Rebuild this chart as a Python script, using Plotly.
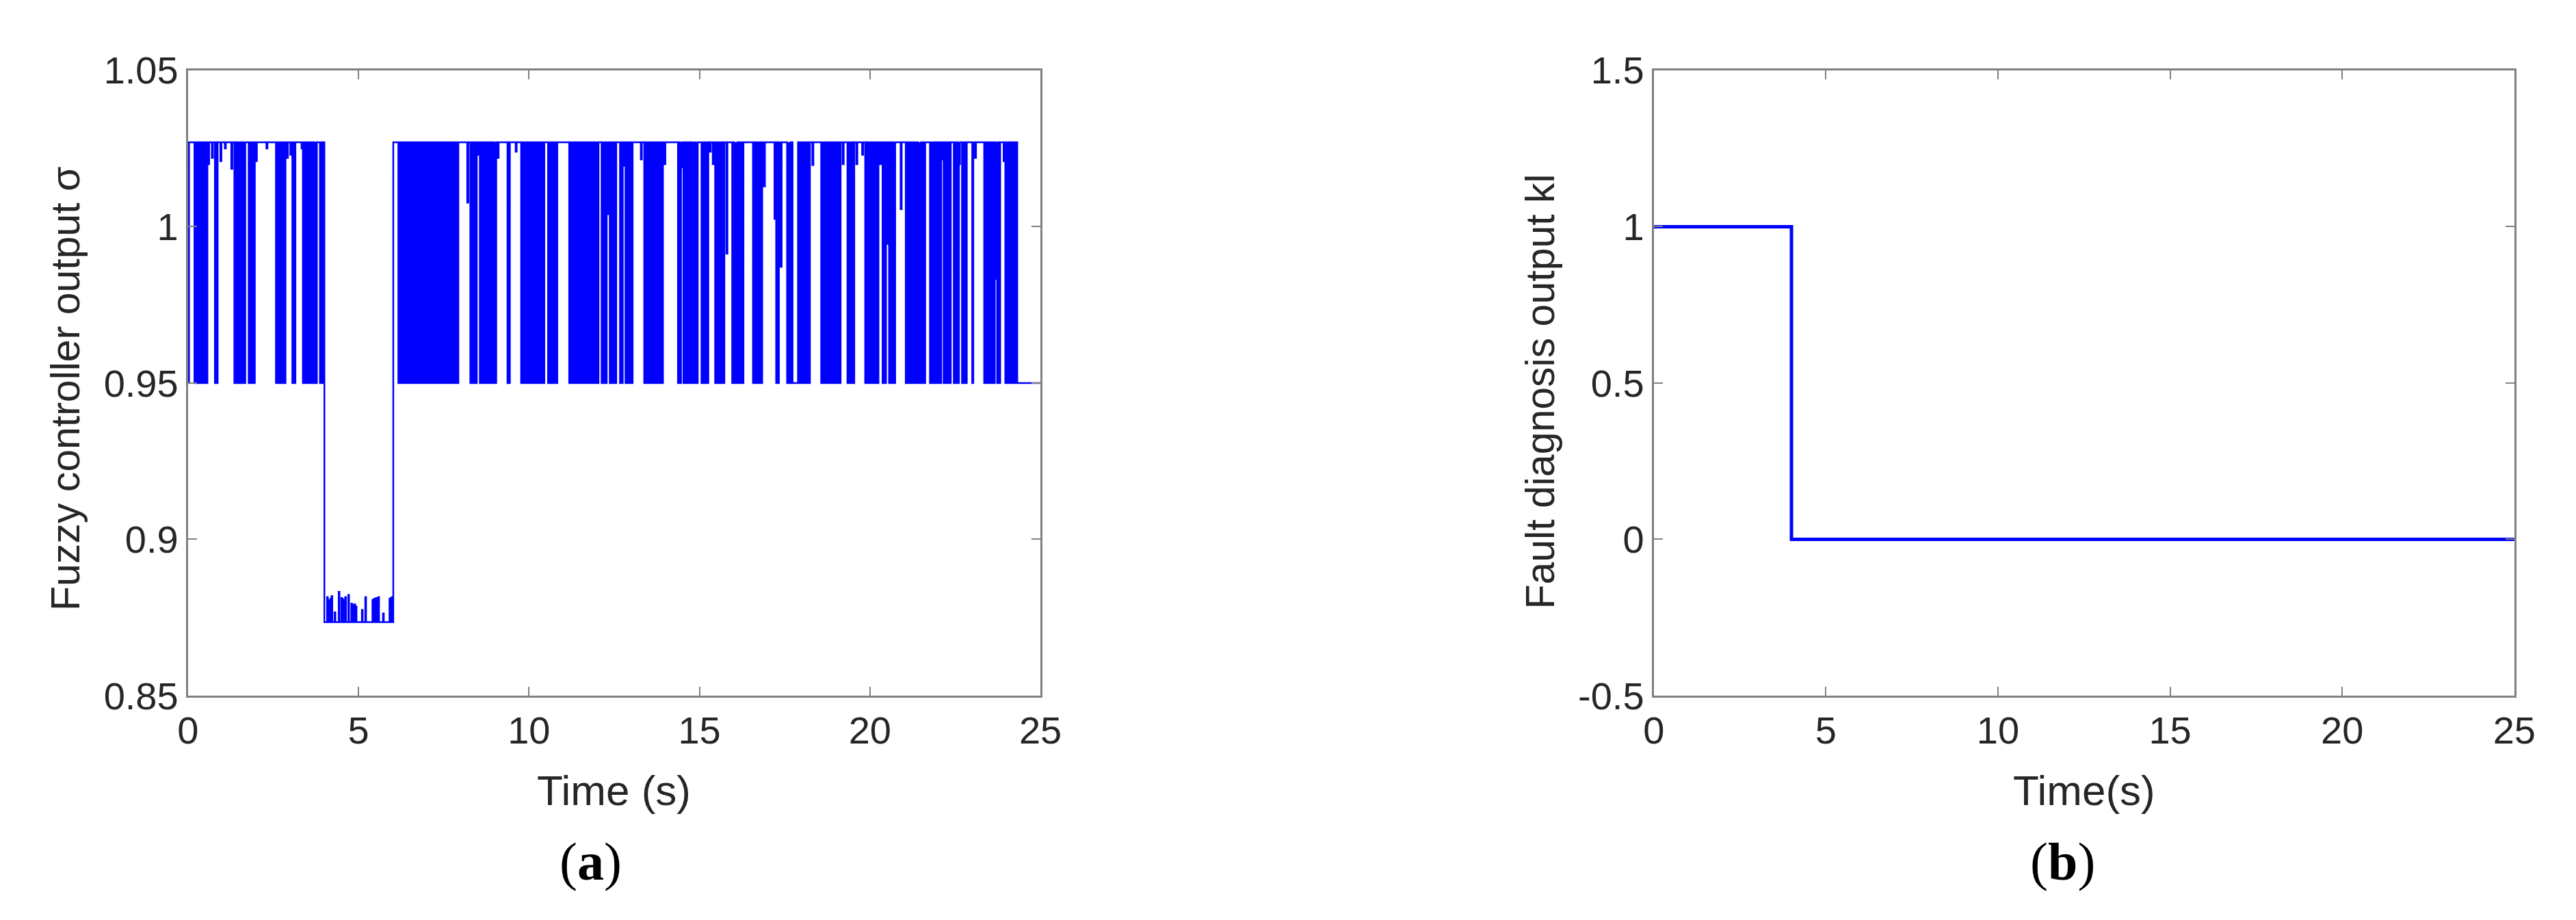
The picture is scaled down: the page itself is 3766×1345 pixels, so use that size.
import plotly.graph_objects as go

W, H = 3766, 1345

# (a) fuzzy controller output sigma
sigma_top = 1.027
sigma_low = 0.95
fault_base = 0.8735
fault_start, fault_end = 4.0, 6.02
end_switch = 24.32
t_end = 25.0
dip_width = 0.03

# times where sigma chatters down to 0.95
dip_times = [
    0.19, 0.24, 0.28, 0.33, 0.37, 0.42, 0.46, 0.50, 0.54,
    0.79, 0.84,
    1.36, 1.41, 1.46, 1.51, 1.56, 1.61, 1.65,
    1.78, 1.83, 1.88, 1.93,
    2.58, 2.63, 2.68, 2.73, 2.78, 2.83,
    3.06, 3.12,
    3.37, 3.42, 3.47, 3.52, 3.57, 3.62, 3.67, 3.72, 3.75,
    3.87, 3.92,
    6.17, 6.23, 6.29, 6.35, 6.41, 6.47, 6.54, 6.60, 6.65, 6.71, 6.77, 6.83, 6.89,
    6.95, 7.01, 7.07, 7.13, 7.19, 7.25, 7.31, 7.37, 7.43, 7.50, 7.55, 7.61, 7.67,
    7.73, 7.79, 7.85, 7.90,
    8.28, 8.34, 8.40, 8.44,
    8.56, 8.62, 8.68, 8.74, 8.80, 8.86, 8.92, 8.98, 9.01,
    9.37, 9.41,
    9.77, 9.83, 9.89, 9.95, 10.01, 10.07, 10.13, 10.19, 10.25, 10.31, 10.37, 10.42,
    10.56, 10.62, 10.68, 10.74, 10.80,
    11.18, 11.24, 11.30, 11.36, 11.42, 11.48, 11.54, 11.60, 11.66, 11.72, 11.78,
    11.84, 11.90, 11.96, 12.01,
    12.13, 12.19, 12.25,
    12.37, 12.43, 12.49, 12.53,
    12.67, 12.72,
    12.83, 12.89, 12.95, 13.01,
    13.38, 13.44, 13.50, 13.56, 13.62, 13.68, 13.74, 13.80, 13.86, 13.90,
    14.37, 14.43,
    14.53, 14.59, 14.65, 14.71, 14.77, 14.83, 14.89, 14.92,
    15.06, 15.12, 15.18, 15.23,
    15.46, 15.52, 15.58, 15.64, 15.70,
    15.96, 16.02, 16.08, 16.14, 16.20, 16.26,
    16.57, 16.63, 16.69, 16.75, 16.81,
    17.25, 17.30,
    17.57, 17.63, 17.69,
    17.92, 17.98, 18.04, 18.10, 18.16, 18.21,
    18.57, 18.63, 18.69, 18.75, 18.81, 18.87, 18.93, 18.99, 19.05, 19.11,
    19.34, 19.40, 19.46, 19.51,
    19.86, 19.92, 19.98, 20.04, 20.10, 20.16, 20.22,
    20.37, 20.44,
    20.56, 20.62, 20.68, 20.71,
    21.05, 21.11, 21.17, 21.23, 21.29, 21.35, 21.41, 21.47, 21.53, 21.59,
    21.76, 21.82, 21.88, 21.94, 22.00, 22.06,
    22.16, 22.22, 22.28, 22.34,
    22.46, 22.52, 22.58,
    22.70, 22.76, 22.81,
    23.00,
    23.35, 23.41, 23.47, 23.53, 23.59, 23.63,
    23.73, 23.79,
    23.97, 24.03, 24.09, 24.15, 24.21, 24.27,
]

# shallow dips that do not reach 0.95
part_times = [0.59, 0.70, 0.95, 1.08, 1.27, 1.99, 2.30, 2.90, 3.00, 3.33,
              8.19, 8.50, 9.08, 9.61, 12.29, 12.78, 13.28, 13.97, 14.46, 14.81,
              15.30, 15.39, 15.79, 16.05, 16.89, 17.20, 17.38, 17.60, 18.31, 19.20,
              19.60, 19.77, 20.30, 20.52, 20.90, 21.41, 22.11, 22.60, 23.08, 23.70, 23.92]
part_levels = [1.020, 1.022, 1.021, 1.025, 1.0185, 1.021, 1.025, 1.022, 1.023, 1.025,
               1.0077, 1.023, 1.022, 1.024, 1.004, 1.0195, 1.0215, 1.020, 1.019, 0.989,
               1.024, 1.020, 0.9914, 1.0215, 1.0129, 1.0025, 0.9872, 1.025, 1.0197, 1.020,
               1.020, 1.023, 1.020, 0.9945, 1.0056, 1.023, 1.0215, 1.020, 1.022, 0.9833, 1.021]

# longer stay at 0.95
hold_low = [(17.73, 17.89)]

# chatter while the fault is active (4 s to 6 s)
fault_spike_t = [4.08, 4.11, 4.14, 4.18, 4.21, 4.30, 4.42, 4.50, 4.53, 4.56, 4.61,
                 4.70, 4.79, 4.82, 4.85, 4.88, 4.92, 5.10, 5.20, 5.41, 5.44, 5.47,
                 5.52, 5.55, 5.58, 5.72, 5.91, 5.95, 5.98]
fault_spike_v = [0.8815, 0.8805, 0.8800, 0.8810, 0.8818, 0.8766, 0.8832, 0.8812, 0.8808, 0.8805, 0.8815,
                 0.8822, 0.8794, 0.8790, 0.8788, 0.8792, 0.8785, 0.8774, 0.8815, 0.8805, 0.8808, 0.8810,
                 0.8812, 0.8806, 0.8815, 0.8763, 0.8810, 0.8812, 0.8815]

# (b) fault diagnosis output kl
kl_t = [0, 4, 4, 25]
kl_v = [1, 1, 0, 0]

x_ticks = [0, 5, 10, 15, 20, 25]
sigma_ticks = [0.85, 0.9, 0.95, 1.0, 1.05]
sigma_ticktext = ["0.85", "0.9", "0.95", "1", "1.05"]
kl_ticks = [-0.5, 0, 0.5, 1, 1.5]
kl_ticktext = ["-0.5", "0", "0.5", "1", "1.5"]

# build the step series for sigma
events = [(t, dip_width, sigma_low) for t in dip_times]
events += [(t, dip_width, v) for t, v in zip(part_times, part_levels)]
events += [(a, b - a, sigma_low) for a, b in hold_low]
events.sort()

t_s, y_s = [0.0, 0.03], [sigma_low, sigma_top]


def push(t0, w, lvl, base):
    if t0 < t_s[-1]:
        t0 = t_s[-1]
    t_s.extend([t0, t0 + w])
    y_s.extend([lvl, base])


for t0, w, lvl in events:
    if t0 < fault_start:
        push(t0, w, lvl, sigma_top)
t_s.append(fault_start)
y_s.append(fault_base)
for t0, v in zip(fault_spike_t, fault_spike_v):
    push(t0, 0.022, v, fault_base)
t_s.append(fault_end)
y_s.append(sigma_top)
for t0, w, lvl in events:
    if fault_end < t0 < end_switch:
        push(t0, w, lvl, sigma_top)
t_s.extend([end_switch, t_end])
y_s.extend([sigma_low, sigma_low])


def px(x):
    return x / W


def py(y):
    return 1 - y / H


fig = go.Figure()
fig.add_trace(go.Scatter(x=t_s, y=y_s, mode="lines", line=dict(color="#0000ff", width=2.5, shape="hv"),
                         xaxis="x", yaxis="y", showlegend=False))
fig.add_trace(go.Scatter(x=kl_t, y=kl_v, mode="lines", line=dict(color="#0000ff", width=5),
                         xaxis="x2", yaxis="y2", showlegend=False))

tick_font = dict(family="Liberation Sans, Arial", size=56, color="#262626")
axis_style = dict(showline=True, linecolor="#808080", linewidth=3, mirror="ticks", ticks="inside",
                  ticklen=13, tickwidth=2, tickcolor="#808080", showgrid=False, zeroline=False,
                  tickfont=tick_font)

fig.update_layout(
    width=W, height=H,
    margin=dict(l=0, r=0, t=0, b=0),
    paper_bgcolor="white", plot_bgcolor="white",
    xaxis=dict(domain=[px(254), px(1516)], range=[0, 25], tickvals=x_ticks, anchor="y", **axis_style),
    yaxis=dict(domain=[py(1026), py(67)], range=[0.85, 1.05], tickvals=sigma_ticks,
               ticktext=sigma_ticktext, anchor="x", **axis_style),
    xaxis2=dict(domain=[px(2424), px(3698)], range=[0, 25], tickvals=x_ticks, anchor="y2", **axis_style),
    yaxis2=dict(domain=[py(1026), py(67)], range=[-0.5, 1.5], tickvals=kl_ticks,
                ticktext=kl_ticktext, anchor="x2", **axis_style),
)

label_font = dict(family="Liberation Sans, Arial", size=62, color="#262626")
ylabel_font = dict(family="Liberation Sans, Arial", size=59, color="#262626")
cap_font = dict(family="Liberation Serif, Times New Roman", size=78, color="black")
notes = [
    dict(x=px(885), y=py(1171), text="Time (s)", font=label_font),
    dict(x=px(3061), y=py(1171), text="Time(s)", font=label_font),
    dict(x=px(73), y=py(555), text="Fuzzy controller output σ", font=ylabel_font, textangle=-90),
    dict(x=px(2256), y=py(560), text="Fault diagnosis output kl", font=ylabel_font, textangle=-90),
    dict(x=px(850), y=py(1281), text="(<b>a</b>)", font=cap_font),
    dict(x=px(3029), y=py(1281), text="(<b>b</b>)", font=cap_font),
]
for n in notes:
    fig.add_annotation(xref="paper", yref="paper", showarrow=False, xanchor="center", yanchor="middle", **n)

fig.write_html("out.html")
